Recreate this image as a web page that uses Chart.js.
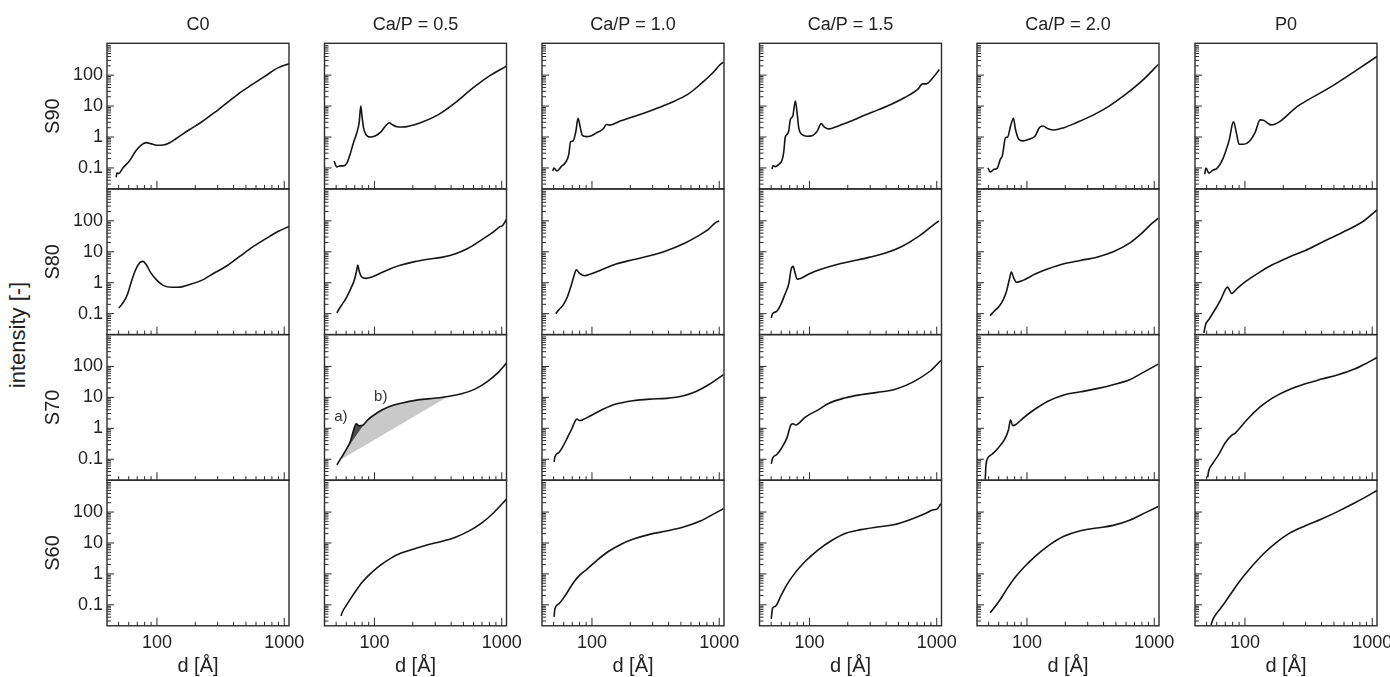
<!DOCTYPE html>
<html>
<head>
<meta charset="utf-8">
<title>intensity vs d</title>
<script src="https://cdn.jsdelivr.net/npm/chart.js@4.4.1/dist/chart.umd.min.js"></script>
<style>
  html, body { margin: 0; padding: 0; background: #fff; }
  #page { position: relative; width: 1390px; height: 677px; overflow: hidden; font-family: "Liberation Sans", Arial, sans-serif; }
  #page canvas { position: absolute; }
  #ylabel { position: absolute; left: 18px; top: 335px; transform: translate(-50%, -50%) rotate(-90deg); font-size: 22px; color: #222; white-space: nowrap; }
</style>
</head>
<body>
<div id="page"><div id="ylabel">intensity [-]</div></div>
<script>
// Panel titles
const COLUMNS = ['C0', 'Ca/P = 0.5', 'Ca/P = 1.0', 'Ca/P = 1.5', 'Ca/P = 2.0', 'P0'];
const ROWS = ['S90', 'S80', 'S70', 'S60'];

// Axis ranges and tick labels
const X_MIN = 40.5, X_MAX = 1090;
const Y_MIN = 0.021, Y_MAX = 1070;
const X_LABELS = [100, 1000];
const Y_LABELS = [0.1, 1, 10, 100];
const X_DECADES = [10, 100];
const Y_DECADES = [0.01, 0.1, 1, 10, 100];

// Curves: [d in Å, intensity]
const C0_S90 = [[47.8, 0.05], [48.5, 0.07], [50, 0.066], [54, 0.1], [60.7, 0.168], [68.1, 0.353], [76.5, 0.58], [82.5, 0.656], [89, 0.61], [100, 0.54], [112, 0.55], [126, 0.656], [141, 0.88], [178, 1.68], [224, 3.05], [282, 6.1], [355, 12.8], [447, 26.9], [562, 50], [708, 93], [891, 172], [1090, 232]];
const C0_S80 = [[50.1, 0.152], [54, 0.22], [58.5, 0.41], [63, 1.1], [68, 2.63], [73.6, 4.53], [77.6, 4.9], [82.5, 3.8], [89, 2.15], [100, 1.19], [112, 0.82], [131, 0.71], [152, 0.72], [178, 0.86], [224, 1.19], [282, 2.05], [355, 3.53], [447, 7.07], [562, 14.2], [708, 25.6], [891, 45], [1090, 65.7]];

const CP05_S90 = [[48.2, 0.168], [50.6, 0.108], [53.7, 0.117], [57, 0.117], [60.6, 0.14], [64.4, 0.276], [68.4, 0.656], [72.7, 1.38], [75.8, 2.9], [78.1, 10], [79.5, 5.4], [82, 2.0], [85.5, 1.22], [92.4, 1.0], [101, 1.08], [110.8, 1.38], [121, 2.15], [131, 2.9], [137, 2.56], [150, 2.15], [164, 2.1], [235, 3.0], [318, 5.3], [430, 12.7], [581, 36], [786, 90], [1090, 195]];
const CP05_S80 = [[50.7, 0.106], [53, 0.147], [56.2, 0.21], [59.8, 0.31], [63.5, 0.51], [66.2, 0.75], [69.5, 1.22], [72.6, 2.58], [73.9, 3.74], [76, 2.3], [79, 1.56], [86, 1.38], [94, 1.49], [113, 2.1], [135, 2.9], [162, 3.74], [207, 4.8], [263, 5.7], [336, 6.6], [428, 8.5], [545, 13], [694, 24.2], [833, 39.8], [969, 65], [1020, 72], [1090, 113]];
const CP05_S70 = [[50.7, 0.066], [54.6, 0.108], [59.8, 0.2], [64.6, 0.374], [68.7, 0.89], [71.7, 1.4], [76, 1.2], [80.9, 1.25], [88.6, 1.88], [106, 3.25], [127, 4.8], [162, 6.5], [220, 8.3], [297, 9.4], [379, 10.7], [483, 13], [616, 18.5], [785, 34.4], [940, 64], [1090, 128]];
const CP05_S60 = [[54.6, 0.044], [56.2, 0.061], [59.8, 0.093], [65.4, 0.165], [71.7, 0.29], [80.9, 0.57], [94, 1.06], [113, 1.98], [135, 3.25], [162, 4.7], [207, 6.5], [263, 8.8], [336, 11.2], [428, 15.1], [545, 23.7], [694, 44], [860, 93], [1090, 263]];

const CP10_S90 = [[49.2, 0.08], [50.3, 0.1], [53, 0.08], [57.3, 0.11], [61.9, 0.15], [65.8, 0.276], [67.8, 0.69], [71, 0.74], [74.8, 1.56], [77.7, 4.0], [80.8, 2.15], [83.9, 1.13], [90.6, 1.03], [97.7, 1.08], [109, 1.38], [123, 1.85], [129.6, 2.55], [137.7, 2.43], [166.6, 3.28], [226, 5], [307, 7.8], [416, 12.8], [565, 23.8], [709, 50], [890, 119], [1000, 205], [1080, 263]];
const CP10_S80 = [[51.9, 0.1], [55.2, 0.135], [59.6, 0.195], [64.3, 0.36], [68.3, 0.76], [72, 1.6], [75.4, 2.6], [79.5, 2.05], [87.2, 1.68], [97.7, 1.9], [123, 2.76], [154.5, 4], [209, 5.5], [284, 7.4], [385, 10.8], [524, 18.1], [657, 29.7], [825, 53.8], [924, 84], [1000, 100]];
const CP10_S70 = [[50.4, 0.082], [51.2, 0.12], [55.2, 0.168], [59.6, 0.276], [64.3, 0.51], [69.3, 0.95], [73, 1.56], [76, 2.0], [79.5, 1.78], [83.9, 1.86], [97.7, 2.56], [123, 4.2], [154.5, 6.1], [209, 7.8], [284, 8.8], [385, 9.3], [524, 11.3], [657, 15.6], [825, 25.7], [961, 39], [1080, 54]];
const CP10_S60 = [[50.4, 0.041], [51.2, 0.076], [55.2, 0.11], [61.9, 0.205], [69.3, 0.43], [77.7, 0.8], [90.6, 1.38], [109.6, 2.76], [132.6, 5.1], [166.7, 8.8], [209, 13.1], [284, 19], [385, 24.4], [524, 32.8], [710, 51], [892, 84], [1080, 128]];

const CP15_S90 = [[50.8, 0.093], [51.7, 0.12], [53.9, 0.11], [57.3, 0.13], [60.9, 0.178], [62.7, 0.31], [64.6, 1.0], [66.6, 1.2], [68.7, 1.55], [70.8, 3.7], [73.9, 4.7], [77.5, 14.4], [80, 6.0], [82.4, 1.98], [87.5, 1.2], [95.8, 1.06], [105, 1.1], [115, 1.55], [123.6, 2.7], [131, 2.1], [142, 1.83], [165, 2.2], [211, 3.25], [268, 4.95], [342, 7.4], [436, 11.2], [556, 18.5], [708, 34.4], [774, 52], [822, 52], [932, 82], [1048, 152]];
const CP15_S80 = [[50.1, 0.072], [51.3, 0.1], [55.2, 0.118], [59.5, 0.195], [64, 0.41], [69, 0.98], [71.6, 2.6], [74.3, 3.36], [77.1, 2.05], [80, 1.31], [86, 1.4], [100, 1.95], [125, 2.76], [162, 3.8], [218, 5], [293, 6.6], [395, 9.1], [532, 14.9], [715, 31], [894, 62.5], [1040, 100]];
const CP15_S70 = [[50.1, 0.071], [51.3, 0.108], [55.2, 0.14], [60.8, 0.24], [66.5, 0.49], [71.6, 1.31], [74.3, 1.41], [78.3, 1.28], [81.8, 1.41], [92.8, 2.3], [118, 4.0], [140, 6.25], [188, 9.5], [253, 12.2], [341, 14.5], [458, 17.7], [572, 24.4], [715, 39], [894, 72.5], [1077, 156]];
const CP15_S60 = [[50.1, 0.035], [51.3, 0.078], [54, 0.09], [59.5, 0.19], [66.5, 0.45], [77.1, 1.08], [92.8, 2.56], [116, 5.8], [150.5, 12.2], [195, 21], [253, 27], [341, 32.8], [458, 38.6], [616, 56.6], [830, 93], [928, 117], [1000, 123], [1077, 186]];

const CP20_S90 = [[49.4, 0.1], [51.3, 0.074], [55.2, 0.09], [58.6, 0.1], [61.7, 0.19], [64, 0.245], [67.9, 0.95], [70.5, 1.0], [74.3, 2.26], [78.3, 4.0], [81.2, 1.78], [86.2, 0.85], [92.8, 0.75], [103.8, 0.85], [116, 1.08], [125, 2.0], [133, 2.26], [145, 1.9], [162, 1.68], [195, 2.0], [244, 2.9], [328, 5], [442, 10], [595, 23.8], [800, 65], [1076, 221]];
const CP20_S80 = [[51.3, 0.086], [55.2, 0.12], [60.3, 0.17], [65, 0.28], [69, 0.52], [72.6, 1.24], [75.4, 2.2], [78.8, 1.41], [83, 1.03], [93, 1.19], [116, 1.9], [145, 2.76], [195, 4.1], [263, 5.25], [354, 6.7], [476, 10], [640, 19], [800, 40], [963, 84], [1076, 122]];
const CP20_S70 = [[47, 0.022], [47.6, 0.0625], [48.7, 0.1], [53.2, 0.145], [59.5, 0.232], [66.5, 0.43], [71.6, 0.9], [74.3, 1.9], [77.1, 1.22], [81.2, 1.3], [92.8, 2.1], [116, 4.2], [145, 7.4], [195, 12], [263, 15.1], [354, 19.2], [476, 25.7], [640, 37], [800, 61], [1076, 119]];
const CP20_S60 = [[51.3, 0.055], [55.2, 0.08], [61.7, 0.149], [69, 0.31], [80, 0.74], [96.4, 1.77], [116, 3.7], [145, 7.8], [195, 16.4], [263, 25], [354, 30.5], [476, 37], [640, 54], [862, 97.5], [1076, 152]];

const P0_S90 = [[48.3, 0.063], [49.4, 0.1], [52, 0.068], [56, 0.085], [60, 0.095], [65, 0.15], [70, 0.31], [75.4, 0.84], [79.5, 2.56], [81.5, 3.1], [85.5, 1.4], [90, 0.58], [97.8, 0.58], [109, 0.74], [120, 1.38], [131.5, 3.58], [139.7, 3.5], [152.7, 2.7], [160, 2.47], [267, 10.7], [487, 45], [1092, 403]];
const P0_S80 = [[47.6, 0.024], [49, 0.044], [52, 0.064], [56, 0.105], [60.3, 0.172], [65, 0.3], [70, 0.6], [73, 0.72], [78.5, 0.45], [87.5, 0.67], [101.5, 1.1], [127, 2.05], [164, 3.8], [221, 6.7], [298, 11], [400, 20], [581, 42], [845, 95], [1092, 226]];
const P0_S70 = [[50.9, 0.026], [52, 0.043], [56, 0.074], [62.7, 0.15], [70, 0.34], [78.2, 0.58], [84, 0.7], [90.8, 1.0], [105, 2.0], [131.6, 4.9], [164, 9.5], [221, 17.7], [298, 27.6], [400, 39], [539, 53.8], [725, 82], [906, 128], [1092, 195]];
const P0_S60 = [[54, 0.0215], [56, 0.034], [60.3, 0.055], [67.5, 0.1], [78.2, 0.24], [90.8, 0.58], [113.5, 1.77], [142, 4.75], [177, 10.5], [221, 20], [298, 36], [400, 59.5], [539, 105], [725, 195], [906, 320], [1092, 500]];

// Shaded areas in the Ca/P = 0.5, S70 panel (closed outlines)
const SHADE_A = [[59.8, 0.2], [64.6, 0.374], [68.7, 0.89], [71.7, 1.4], [76, 1.2], [82, 1.27], [59.8, 0.2]];
const SHADE_B = [[52.5, 0.09], [54.6, 0.108], [59.8, 0.2], [64.6, 0.374], [68.7, 0.89], [71.7, 1.4], [76, 1.2], [80.9, 1.25], [88.6, 1.88], [106, 3.25], [127, 4.8], [162, 6.5], [220, 8.3], [297, 9.4], [379, 10.7], [52.5, 0.09]];
const NOTES = [['a)', 54.5, 2.4], ['b)', 112, 10.2]];

const GRID = [
  [C0_S90, CP05_S90, CP10_S90, CP15_S90, CP20_S90, P0_S90],
  [C0_S80, CP05_S80, CP10_S80, CP15_S80, CP20_S80, P0_S80],
  [null, CP05_S70, CP10_S70, CP15_S70, CP20_S70, P0_S70],
  [null, CP05_S60, CP10_S60, CP15_S60, CP20_S60, P0_S60]
];

// Layout (page pixels)
const BOX_X = [107, 324.5, 542, 759.5, 977, 1195];
const BOX_Y = [43.3, 189, 334.6, 480.2];
const BOX_W = 182, BOX_H = 145.6;
const PAGE_H = 677;
const FONT = '"Liberation Sans", Arial, sans-serif';

Chart.defaults.font.family = FONT;
Chart.defaults.color = '#222';

const minorTicks = (decades, lo, hi) => {
  const out = [];
  decades.forEach(dec => {
    for (let k = 1; k < 10; k++) {
      const v = +(dec * k).toPrecision(6);
      if (v >= lo && v < hi) out.push(v);
    }
  });
  return out;
};
const X_TICKS = minorTicks(X_DECADES, X_MIN, X_MAX).concat([1000]).filter((v, i, a) => a.indexOf(v) === i);
const Y_TICKS = minorTicks(Y_DECADES, Y_MIN, Y_MAX);
const isDecade = v => Math.abs(Math.log10(v) - Math.round(Math.log10(v))) < 1e-9;

// box outline plus inward tick marks
const frame = {
  id: 'frame',
  afterDatasetsDraw(chart) {
    const { ctx, chartArea: a, scales: { x, y } } = chart;
    ctx.save();
    ctx.strokeStyle = '#2b2b2b';
    ctx.lineWidth = 1;
    ctx.beginPath();
    X_TICKS.forEach(v => {
      const px = x.getPixelForValue(v);
      const len = isDecade(v) ? 8 : 4;
      ctx.moveTo(px, a.bottom);
      ctx.lineTo(px, a.bottom - len);
    });
    Y_TICKS.forEach(v => {
      const py = y.getPixelForValue(v);
      const len = isDecade(v) ? 7 : 4;
      ctx.moveTo(a.left, py);
      ctx.lineTo(a.left + len, py);
    });
    ctx.stroke();
    ctx.lineWidth = 1.4;
    ctx.strokeRect(a.left, a.top, a.right - a.left, a.bottom - a.top);
    ctx.restore();
  }
};

const notesPlugin = items => ({
  id: 'notes',
  afterDatasetsDraw(chart) {
    const { ctx, scales: { x, y } } = chart;
    ctx.save();
    ctx.font = '15px ' + FONT;
    ctx.fillStyle = '#333';
    ctx.textAlign = 'center';
    ctx.textBaseline = 'middle';
    items.forEach(([text, d, v]) => ctx.fillText(text, x.getPixelForValue(d), y.getPixelForValue(v)));
    ctx.restore();
  }
});

const toXY = pts => pts.map(([d, v]) => ({ x: d, y: v }));

function makePanel(r, c) {
  const page = document.getElementById('page');
  const left = c === 0 ? 0 : Math.floor(BOX_X[c]) - 14;
  const top = r === 0 ? 0 : Math.floor(BOX_Y[r]) - 6;
  const right = Math.ceil(BOX_X[c] + BOX_W) + (r === 3 ? 26 : 6);
  const bottom = r === 3 ? PAGE_H : Math.ceil(BOX_Y[r] + BOX_H) + 6;
  const padL = BOX_X[c] - left;
  const padT = BOX_Y[r] - top;
  const padR = right - (BOX_X[c] + BOX_W);
  const padB = bottom - (BOX_Y[r] + BOX_H);

  const canvas = document.createElement('canvas');
  canvas.width = right - left;
  canvas.height = bottom - top;
  canvas.style.left = left + 'px';
  canvas.style.top = top + 'px';
  page.appendChild(canvas);

  const datasets = [];
  const curve = GRID[r][c];
  if (curve) {
    datasets.push({
      data: toXY(curve),
      borderColor: '#151515',
      borderWidth: 1.6,
      pointRadius: 0,
      cubicInterpolationMode: 'monotone',
      fill: false
    });
  }
  const plugins = [frame];
  if (r === 2 && c === 1) {
    datasets.push({ data: toXY(SHADE_A), borderColor: 'rgba(0,0,0,0)', backgroundColor: '#4d4d4d', pointRadius: 0, tension: 0, fill: 'shape' });
    datasets.push({ data: toXY(SHADE_B), borderColor: 'rgba(0,0,0,0)', backgroundColor: '#c9c9c9', pointRadius: 0, tension: 0, fill: 'shape' });
    plugins.push(notesPlugin(NOTES));
  }

  new Chart(canvas, {
    type: 'line',
    data: { datasets },
    plugins,
    options: {
      responsive: false,
      animation: false,
      events: [],
      devicePixelRatio: 1,
      layout: { padding: { left: 0, top: r === 0 ? 0 : padT, right: padR, bottom: 0 } },
      plugins: {
        legend: { display: false },
        tooltip: { enabled: false },
        title: {
          display: r === 0,
          fullSize: false,
          text: COLUMNS[c],
          color: '#222',
          font: { size: 18, weight: 'normal' },
          padding: { top: 14.2, bottom: padT - 14.2 - 21.6 }
        }
      },
      scales: {
        x: {
          type: 'logarithmic',
          bounds: 'data',
          min: X_MIN,
          max: X_MAX,
          afterFit: s => {
            s.height = padB;
            s.paddingLeft = 0;
            s.paddingRight = 0;
          },
          afterBuildTicks: s => { s.ticks = X_TICKS.map(v => ({ value: v })); },
          grid: { display: false, drawTicks: false },
          border: { display: false },
          ticks: {
            display: r === 3,
            autoSkip: false,
            maxRotation: 0,
            minRotation: 0,
            padding: 6,
            color: '#222',
            font: { size: 18 },
            callback: v => (X_LABELS.includes(v) ? String(v) : '')
          },
          title: {
            display: r === 3,
            text: 'd [Å]',
            color: '#222',
            font: { size: 20, lineHeight: 1.1 },
            padding: { top: 0, bottom: 0 }
          }
        },
        y: {
          type: 'logarithmic',
          bounds: 'data',
          min: Y_MIN,
          max: Y_MAX,
          afterFit: s => {
            s.width = padL;
            s.paddingTop = 0;
            s.paddingBottom = 0;
          },
          afterBuildTicks: s => { s.ticks = Y_TICKS.map(v => ({ value: v })); },
          grid: { display: false, drawTicks: false },
          border: { display: false },
          ticks: {
            display: c === 0,
            autoSkip: false,
            padding: 4,
            color: '#222',
            font: { size: 18 },
            callback: v => (Y_LABELS.includes(v) ? String(v) : '')
          },
          title: {
            display: c === 0,
            text: ROWS[r],
            color: '#222',
            font: { size: 20 },
            padding: { top: 41, bottom: 0 }
          }
        }
      }
    }
  });
}

for (let r = 0; r < ROWS.length; r++) {
  for (let c = 0; c < COLUMNS.length; c++) {
    makePanel(r, c);
  }
}
</script>
</body>
</html>
